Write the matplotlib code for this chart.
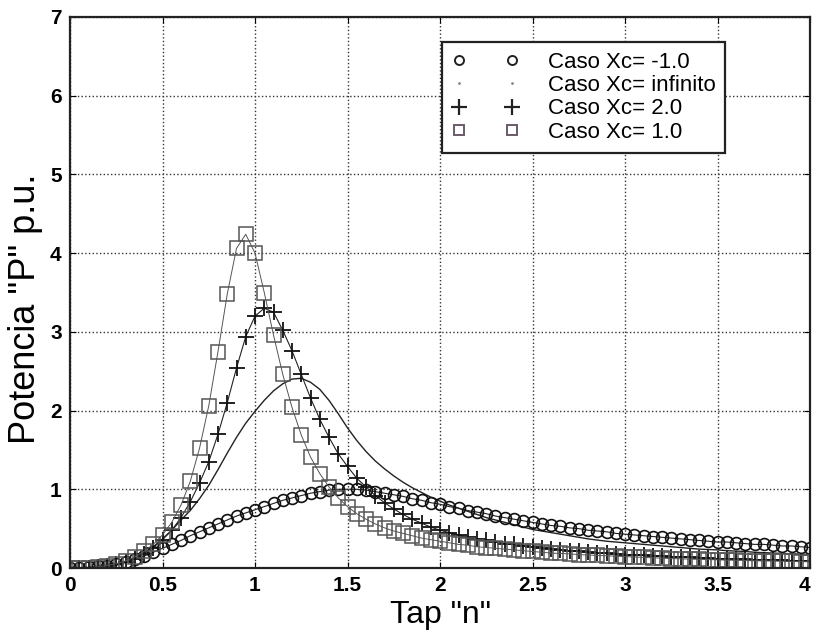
import numpy as np
import matplotlib
matplotlib.use("Agg")
import matplotlib.pyplot as plt
from matplotlib.lines import Line2D

plt.rcParams['font.family'] = ['Liberation Sans', 'DejaVu Sans']

# tap values (step 0.05)
tap = [0.0, 0.05, 0.1, 0.15, 0.2, 0.25, 0.3, 0.35, 0.4, 0.45,
       0.5, 0.55, 0.6, 0.65, 0.7, 0.75, 0.8, 0.85, 0.9, 0.95,
       1.0, 1.05, 1.1, 1.15, 1.2, 1.25, 1.3, 1.35, 1.4, 1.45,
       1.5, 1.55, 1.6, 1.65, 1.7, 1.75, 1.8, 1.85, 1.9, 1.95,
       2.0, 2.05, 2.1, 2.15, 2.2, 2.25, 2.3, 2.35, 2.4, 2.45,
       2.5, 2.55, 2.6, 2.65, 2.7, 2.75, 2.8, 2.85, 2.9, 2.95,
       3.0, 3.05, 3.1, 3.15, 3.2, 3.25, 3.3, 3.35, 3.4, 3.45,
       3.5, 3.55, 3.6, 3.65, 3.7, 3.75, 3.8, 3.85, 3.9, 3.95,
       4.0]

# Xc = -1.0
p_xc_m1 = [0.0, 0.0, 0.01, 0.02, 0.03, 0.05, 0.08, 0.11, 0.15, 0.2,
           0.25, 0.3, 0.35, 0.41, 0.46, 0.51, 0.56, 0.61, 0.66, 0.7,
           0.74, 0.78, 0.82, 0.86, 0.89, 0.92, 0.95, 0.97, 0.99, 1.0,
           1.0, 1.0, 0.99, 0.97, 0.95, 0.93, 0.91, 0.88, 0.86, 0.83,
           0.81, 0.78, 0.76, 0.73, 0.71, 0.69, 0.66, 0.64, 0.62, 0.6,
           0.58, 0.56, 0.54, 0.53, 0.51, 0.5, 0.48, 0.47, 0.46, 0.44,
           0.43, 0.42, 0.41, 0.4, 0.39, 0.38, 0.37, 0.36, 0.35, 0.34,
           0.33, 0.33, 0.32, 0.31, 0.3, 0.3, 0.29, 0.28, 0.28, 0.27,
           0.26]

# Xc = infinito
p_xc_inf = [0.0, 0.0, 0.003, 0.008, 0.017, 0.035, 0.07, 0.12, 0.19, 0.27,
            0.37, 0.48, 0.61, 0.73, 0.88, 1.05, 1.25, 1.46, 1.66, 1.84,
            1.99, 2.13, 2.25, 2.34, 2.4, 2.41, 2.36, 2.27, 2.13, 1.96,
            1.78, 1.62, 1.48, 1.36, 1.26, 1.17, 1.09, 1.02, 0.96, 0.9,
            0.85, 0.8, 0.76, 0.72, 0.68, 0.64, 0.61, 0.58, 0.55, 0.52,
            0.49, 0.47, 0.45, 0.43, 0.41, 0.39, 0.37, 0.355, 0.34, 0.33,
            0.32, 0.31, 0.3, 0.29, 0.28, 0.27, 0.26, 0.25, 0.24, 0.235,
            0.23, 0.22, 0.215, 0.21, 0.2, 0.195, 0.19, 0.185, 0.18, 0.175,
            0.17]

# Xc = 2.0
p_xc_2 = [0.0, 0.0, 0.005, 0.01, 0.025, 0.045, 0.075, 0.12, 0.18, 0.26,
          0.36, 0.48, 0.64, 0.84, 1.08, 1.35, 1.7, 2.1, 2.54, 2.94,
          3.2, 3.3, 3.25, 3.02, 2.76, 2.46, 2.16, 1.89, 1.66, 1.45,
          1.29, 1.14, 1.03, 0.92, 0.83, 0.75, 0.68, 0.62, 0.57, 0.52,
          0.48, 0.45, 0.42, 0.39, 0.37, 0.35, 0.33, 0.31, 0.3, 0.28,
          0.27, 0.26, 0.24, 0.23, 0.22, 0.21, 0.2, 0.19, 0.185, 0.18,
          0.17, 0.165, 0.16, 0.155, 0.15, 0.145, 0.14, 0.135, 0.13, 0.125,
          0.12, 0.117, 0.114, 0.11, 0.107, 0.104, 0.1, 0.098, 0.095, 0.092,
          0.09]

# Xc = 1.0
p_xc_1 = [0.0, 0.0, 0.005, 0.015, 0.03, 0.055, 0.09, 0.14, 0.21, 0.3,
          0.42, 0.58, 0.8, 1.1, 1.52, 2.06, 2.75, 3.48, 4.06, 4.24,
          4.0, 3.5, 2.96, 2.46, 2.04, 1.69, 1.41, 1.2, 1.03, 0.89,
          0.78, 0.69, 0.62, 0.56, 0.51, 0.47, 0.44, 0.41, 0.38, 0.36,
          0.34, 0.32, 0.3, 0.29, 0.27, 0.26, 0.25, 0.24, 0.23, 0.22,
          0.21, 0.2, 0.19, 0.185, 0.18, 0.17, 0.165, 0.16, 0.155, 0.15,
          0.145, 0.14, 0.135, 0.13, 0.125, 0.12, 0.117, 0.113, 0.11, 0.107,
          0.104, 0.1, 0.098, 0.095, 0.092, 0.09, 0.088, 0.085, 0.083, 0.081,
          0.079]

labels = ['Caso Xc= -1.0', 'Caso Xc= infinito', 'Caso Xc= 2.0', 'Caso Xc= 1.0']

fig = plt.figure(figsize=(8.14, 6.37), dpi=100)
ax = fig.add_axes([70/814, 1-568/637, 740/814, 551/637])

ax.plot(tap, p_xc_inf, color='#222222', lw=1.0)
ax.plot(tap, p_xc_m1, color='#222222', lw=0.8, marker='o', ms=8.5,
        mfc='none', mec='#111111', mew=1.2)
ax.plot(tap, p_xc_2, color='#222222', lw=0.8, marker='+', ms=12,
        mec='#111111', mew=1.3)
ax.plot(tap, p_xc_1, color='#555555', lw=0.7, marker='s', ms=9.5,
        mfc='none', mec='#555555', mew=1.1)

ax.set_xlim(0, 4)
ax.set_ylim(0, 7)
ax.set_xticks([0, 0.5, 1, 1.5, 2, 2.5, 3, 3.5, 4])
ax.set_xticklabels(['0', '0.5', '1', '1.5', '2', '2.5', '3', '3.5', '4'])
ax.set_yticks(range(8))
ax.grid(True, linestyle=':', color='#333333', lw=1.0)
ax.tick_params(direction='in', length=4, top=True, right=True,
               labelsize=15, pad=6)
for lab in ax.get_xticklabels() + ax.get_yticklabels():
    lab.set_fontweight('bold')
# keep the last x label inside the picture
ax.get_xticklabels()[-1].set_horizontalalignment('right')
for sp in ax.spines.values():
    sp.set_linewidth(1.6)
    sp.set_color('#222222')

ax.set_xlabel('Tap "n"', fontsize=23, labelpad=3)
ax.set_ylabel('Potencia "P" p.u.', fontsize=26)
ax.yaxis.set_label_coords(-0.036, 0.47)

handles = [
    Line2D([], [], ls='none', marker='o', ms=6.5, mfc='none', mec='#222222', mew=1.4),
    Line2D([], [], ls='none', marker='.', ms=2, color='#888888'),
    Line2D([], [], ls='none', marker='+', ms=11, mec='#222222', mew=1.6),
    Line2D([], [], ls='none', marker='s', ms=7.5, mfc='none', mec='#6a5a6a', mew=1.4),
]
leg = ax.legend(handles, labels, loc='upper left',
                bbox_to_anchor=(442/814, 1-42/637), bbox_transform=fig.transFigure,
                borderaxespad=0, numpoints=2, handlelength=3.0, handletextpad=1.3,
                labelspacing=0.1, borderpad=0.45, fontsize=16,
                fancybox=False, framealpha=1, edgecolor='#222222')
leg.get_frame().set_linewidth(1.6)

fig.savefig('out.png', dpi=100)
